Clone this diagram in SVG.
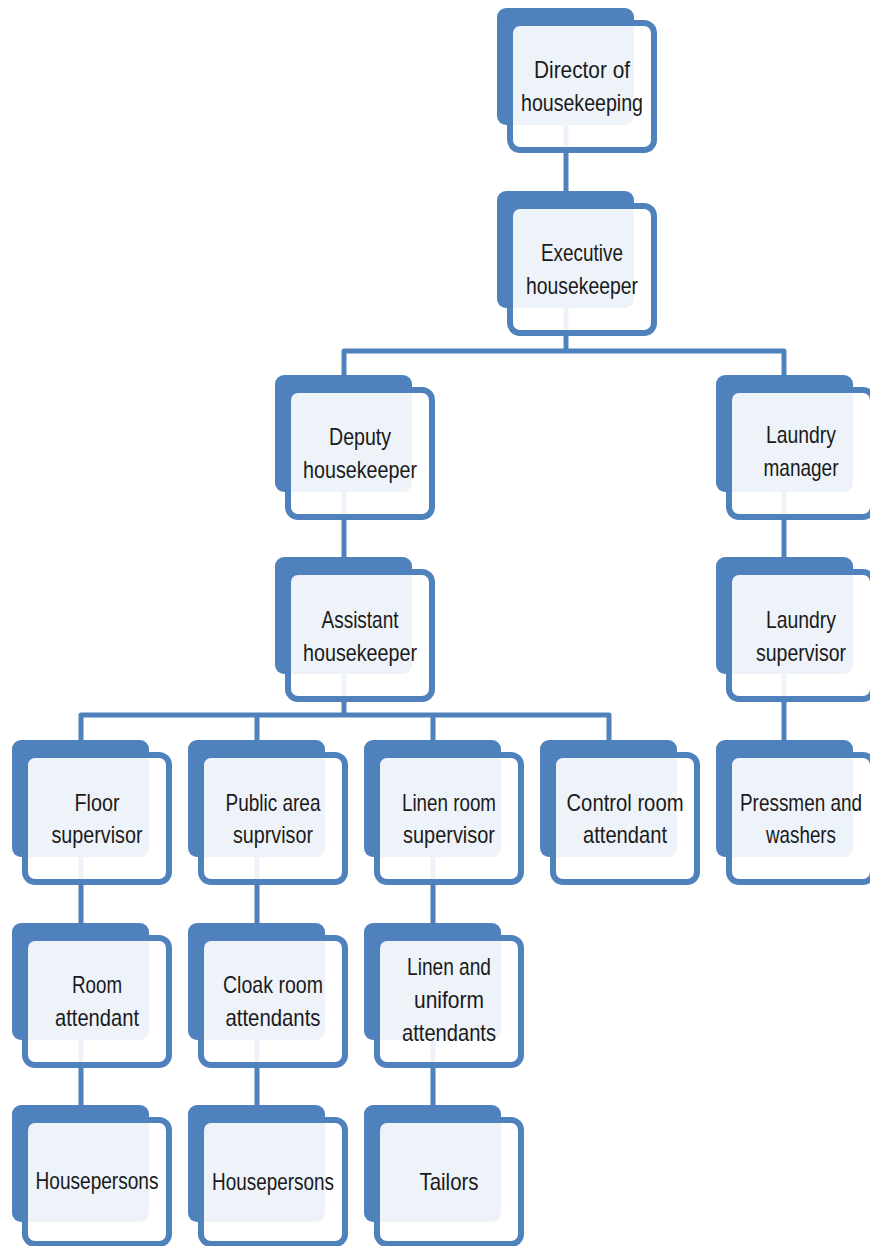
<svg xmlns="http://www.w3.org/2000/svg" width="870" height="1246" viewBox="0 0 870 1246">
<style>
.back{fill:#4f81bd;}
.front{fill:#ffffff;fill-opacity:0.9;stroke:#4f81bd;stroke-width:6;}
.t{font-family:"Liberation Sans",Arial,sans-serif;font-size:24px;fill:#1a1a1a;text-anchor:middle;}
.c{fill:none;stroke:#4f81bd;stroke-width:5;stroke-linejoin:round;}
</style>
<rect width="870" height="1246" fill="#ffffff"/>
<g id="connectors">
<path class="c" d="M566,120 V215"/>
<path class="c" d="M566,300 V351"/>
<path class="c" d="M344,400 V351 H784 V400"/>
<path class="c" d="M344,480 V580"/>
<path class="c" d="M784,480 V580"/>
<path class="c" d="M344,660 V715"/>
<path class="c" d="M81,760 V715 H609 V760"/>
<path class="c" d="M257,715 V760"/>
<path class="c" d="M433,715 V760"/>
<path class="c" d="M784,660 V760"/>
<path class="c" d="M81,850 V940"/>
<path class="c" d="M257,850 V940"/>
<path class="c" d="M433,850 V940"/>
<path class="c" d="M81,1030 V1120"/>
<path class="c" d="M257,1030 V1120"/>
<path class="c" d="M433,1030 V1120"/>
</g>
<g id="director">
<rect class="back" x="497" y="8" width="137" height="117" rx="9"/>
<rect class="front" x="510" y="23" width="144" height="127" rx="10"/>
<text class="t" x="582" y="78" textLength="96" lengthAdjust="spacingAndGlyphs">Director of</text>
<text class="t" x="582" y="111" textLength="122" lengthAdjust="spacingAndGlyphs">housekeeping</text>
</g>
<g id="executive">
<rect class="back" x="497" y="191" width="137" height="117" rx="9"/>
<rect class="front" x="510" y="206" width="144" height="127" rx="10"/>
<text class="t" x="582" y="261" textLength="82" lengthAdjust="spacingAndGlyphs">Executive</text>
<text class="t" x="582" y="294" textLength="112" lengthAdjust="spacingAndGlyphs">housekeeper</text>
</g>
<g id="deputy">
<rect class="back" x="275" y="375" width="137" height="117" rx="9"/>
<rect class="front" x="288" y="390" width="144" height="127" rx="10"/>
<text class="t" x="360" y="445" textLength="62" lengthAdjust="spacingAndGlyphs">Deputy</text>
<text class="t" x="360" y="478" textLength="114" lengthAdjust="spacingAndGlyphs">housekeeper</text>
</g>
<g id="laundry-manager">
<rect class="back" x="716" y="375" width="137" height="117" rx="9"/>
<rect class="front" x="729" y="390" width="144" height="127" rx="10"/>
<text class="t" x="801" y="443" textLength="70" lengthAdjust="spacingAndGlyphs">Laundry</text>
<text class="t" x="801" y="476" textLength="75" lengthAdjust="spacingAndGlyphs">manager</text>
</g>
<g id="assistant">
<rect class="back" x="275" y="557" width="137" height="117" rx="9"/>
<rect class="front" x="288" y="572" width="144" height="127" rx="10"/>
<text class="t" x="360" y="628" textLength="77" lengthAdjust="spacingAndGlyphs">Assistant</text>
<text class="t" x="360" y="661" textLength="114" lengthAdjust="spacingAndGlyphs">housekeeper</text>
</g>
<g id="laundry-supervisor">
<rect class="back" x="716" y="557" width="137" height="117" rx="9"/>
<rect class="front" x="729" y="572" width="144" height="127" rx="10"/>
<text class="t" x="801" y="628" textLength="70" lengthAdjust="spacingAndGlyphs">Laundry</text>
<text class="t" x="801" y="661" textLength="90" lengthAdjust="spacingAndGlyphs">supervisor</text>
</g>
<g id="floor-supervisor">
<rect class="back" x="12" y="740" width="137" height="117" rx="9"/>
<rect class="front" x="25" y="755" width="144" height="127" rx="10"/>
<text class="t" x="97" y="811" textLength="45" lengthAdjust="spacingAndGlyphs">Floor</text>
<text class="t" x="97" y="843" textLength="91" lengthAdjust="spacingAndGlyphs">supervisor</text>
</g>
<g id="public-area-supervisor">
<rect class="back" x="188" y="740" width="137" height="117" rx="9"/>
<rect class="front" x="201" y="755" width="144" height="127" rx="10"/>
<text class="t" x="273" y="811" textLength="95" lengthAdjust="spacingAndGlyphs">Public area</text>
<text class="t" x="273" y="843" textLength="80" lengthAdjust="spacingAndGlyphs">suprvisor</text>
</g>
<g id="linen-room-supervisor">
<rect class="back" x="364" y="740" width="137" height="117" rx="9"/>
<rect class="front" x="377" y="755" width="144" height="127" rx="10"/>
<text class="t" x="449" y="811" textLength="94" lengthAdjust="spacingAndGlyphs">Linen room</text>
<text class="t" x="449" y="843" textLength="92" lengthAdjust="spacingAndGlyphs">supervisor</text>
</g>
<g id="control-room-attendant">
<rect class="back" x="540" y="740" width="137" height="117" rx="9"/>
<rect class="front" x="553" y="755" width="144" height="127" rx="10"/>
<text class="t" x="625" y="811" textLength="117" lengthAdjust="spacingAndGlyphs">Control room</text>
<text class="t" x="625" y="843" textLength="84" lengthAdjust="spacingAndGlyphs">attendant</text>
</g>
<g id="pressmen">
<rect class="back" x="716" y="740" width="137" height="117" rx="9"/>
<rect class="front" x="729" y="755" width="144" height="127" rx="10"/>
<text class="t" x="801" y="811" textLength="122" lengthAdjust="spacingAndGlyphs">Pressmen and</text>
<text class="t" x="801" y="843" textLength="70" lengthAdjust="spacingAndGlyphs">washers</text>
</g>
<g id="room-attendant">
<rect class="back" x="12" y="923" width="137" height="117" rx="9"/>
<rect class="front" x="25" y="938" width="144" height="127" rx="10"/>
<text class="t" x="97" y="993" textLength="50" lengthAdjust="spacingAndGlyphs">Room</text>
<text class="t" x="97" y="1026" textLength="84" lengthAdjust="spacingAndGlyphs">attendant</text>
</g>
<g id="cloak-room-attendants">
<rect class="back" x="188" y="923" width="137" height="117" rx="9"/>
<rect class="front" x="201" y="938" width="144" height="127" rx="10"/>
<text class="t" x="273" y="993" textLength="100" lengthAdjust="spacingAndGlyphs">Cloak room</text>
<text class="t" x="273" y="1026" textLength="95" lengthAdjust="spacingAndGlyphs">attendants</text>
</g>
<g id="linen-uniform-attendants">
<rect class="back" x="364" y="923" width="137" height="117" rx="9"/>
<rect class="front" x="377" y="938" width="144" height="127" rx="10"/>
<text class="t" x="449" y="975" textLength="84" lengthAdjust="spacingAndGlyphs">Linen and</text>
<text class="t" x="449" y="1008" textLength="70" lengthAdjust="spacingAndGlyphs">uniform</text>
<text class="t" x="449" y="1041" textLength="94" lengthAdjust="spacingAndGlyphs">attendants</text>
</g>
<g id="housepersons-1">
<rect class="back" x="12" y="1105" width="137" height="117" rx="9"/>
<rect class="front" x="25" y="1120" width="144" height="124" rx="10"/>
<text class="t" x="97" y="1189" textLength="123" lengthAdjust="spacingAndGlyphs">Housepersons</text>
</g>
<g id="housepersons-2">
<rect class="back" x="188" y="1105" width="137" height="117" rx="9"/>
<rect class="front" x="201" y="1120" width="144" height="124" rx="10"/>
<text class="t" x="273" y="1190" textLength="122" lengthAdjust="spacingAndGlyphs">Housepersons</text>
</g>
<g id="tailors">
<rect class="back" x="364" y="1105" width="137" height="117" rx="9"/>
<rect class="front" x="377" y="1120" width="144" height="124" rx="10"/>
<text class="t" x="449" y="1190" textLength="59" lengthAdjust="spacingAndGlyphs">Tailors</text>
</g>
</svg>
